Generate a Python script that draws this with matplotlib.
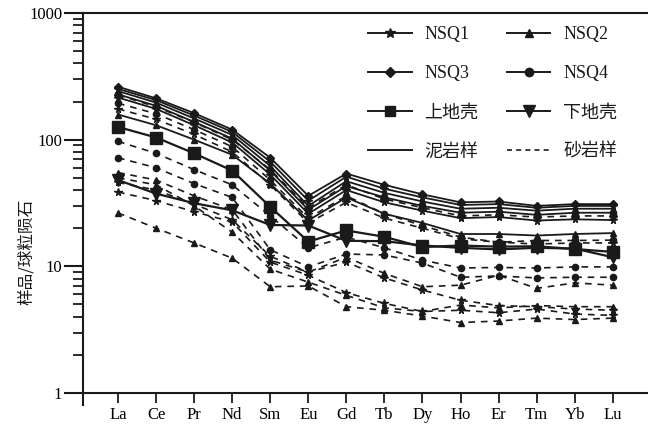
import matplotlib
matplotlib.use('Agg')
import matplotlib.pyplot as plt
from matplotlib.lines import Line2D
from matplotlib.ticker import LogLocator, NullFormatter, FixedLocator

plt.rcParams['font.family'] = ['Liberation Serif', 'Noto Sans CJK SC', 'DejaVu Sans']

elements = ['La', 'Ce', 'Pr', 'Nd', 'Sm', 'Eu', 'Gd', 'Tb', 'Dy', 'Ho', 'Er', 'Tm', 'Yb', 'Lu']

# reference crusts
upper_crust = [126, 104, 78, 57, 29.5, 15.7, 19.2, 17.1, 14.2, 14.6, 14.3, 14.4, 13.7, 13.0]
lower_crust = [48, 37.5, 31.5, 27.7, 21.2, 21.0, 15.9, 15.8, 14.6, 14.0, 13.6, 14.0, 13.8, 11.8]

# mudstone samples (solid)
mud_s1 = [262, 212, 162, 120, 72, 36, 54, 44, 37, 32, 32.5, 30, 31, 31]
mud_s2 = [252, 205, 155, 115, 67, 33, 51, 41, 35, 30.5, 31, 29, 30, 30]
mud_s3 = [242, 196, 147, 109, 62, 30, 47, 38, 32.5, 28.5, 29, 27.5, 28.5, 28.5]
mud_s4 = [228, 185, 138, 102, 57, 28, 43, 35, 30, 26.5, 27, 25.5, 26.5, 26.5]
mud_s5 = [215, 175, 130, 95, 53, 26, 40, 32, 27.5, 24, 24.5, 23, 23.5, 23.2]
mud_s6 = [158, 130, 100, 76, 45, 23, 35, 26, 22, 18, 18, 17.5, 18, 18.3]

# sandstone samples (dashed)
sand_d0 = [225, 182, 137, 100, 58, 29, 44, 34, 29, 25, 25.5, 24.5, 25, 25]
sand_d1 = [194, 160, 120, 88, 48, 24, 36, 26, 21, 17, 15.5, 16, 16, 16.1]
sand_d2 = [175, 145, 110, 80, 44, 22, 32, 24, 20, 16.5, 15.5, 15, 15.3, 15.3]
sand_d3 = [97, 78, 58, 44, 25, 14, 17, 14, 11.2, 9.7, 9.8, 9.7, 9.9, 9.9]
sand_d4 = [72, 60, 45, 35, 13.5, 9.9, 12.5, 12.3, 10.6, 8.2, 8.4, 8.1, 8.2, 8.2]
sand_d5 = [55, 48, 36, 28, 11.2, 9.0, 11.8, 8.8, 6.9, 7.1, 8.5, 6.7, 7.4, 7.1]
sand_l1 = [26.4, 20, 15.3, 11.6, 6.9, 7.0, 4.8, 4.5, 4.05, 3.6, 3.7, 3.9, 3.8, 3.9]
sand_l2 = [38.6, 33, 27, 22.4, 10.8, 8.5, 6.2, 5.1, 4.4, 4.5, 4.3, 4.6, 4.2, 4.1]
sand_l3 = [46, 40, 31, 23.3, 12, 9.0, 10.8, 8.1, 6.5, 5.4, 4.9, 4.8, 4.6, 4.5]
sand_l4 = [50, 44, 30, 18.6, 9.5, 7.5, 5.9, 4.7, 4.4, 4.95, 4.7, 4.9, 4.8, 4.8]

y_ticks = [1, 10, 100, 1000]
y_tick_labels = ['1', '10', '100', '1000']

legend_labels = ['NSQ1', 'NSQ2', 'NSQ3', 'NSQ4', '上地壳', '下地壳', '泥岩样', '砂岩样']

C = '#1a1a1a'
x = list(range(1, len(elements) + 1))

fig = plt.figure(figsize=(6.48, 4.28), dpi=100)
ax = fig.add_axes([83/648, 35/428, 564/648, 380/428])

dash = (0, (4, 3.5))
sand = [(sand_d0, 'D'), (sand_d1, 'o'), (sand_d2, '*'), (sand_d3, 'o'), (sand_d4, 'o'),
        (sand_d5, '^'), (sand_l1, '^'), (sand_l2, '*'), (sand_l3, '*'), (sand_l4, '^')]
for vals, m in sand:
    ax.plot(x, vals, color=C, lw=1.2, linestyle=dash, marker=m,
            ms=4.5 if m != '*' else 5.5, mfc=C, mec=C)

mud = [(mud_s1, 'D'), (mud_s2, '*'), (mud_s3, '^'), (mud_s4, 'o'), (mud_s5, '*'), (mud_s6, '^')]
for vals, m in mud:
    ax.plot(x, vals, color=C, lw=1.3, linestyle='-', marker=m,
            ms=4 if m == 'D' else (5.5 if m == '*' else 4.5), mfc=C, mec=C)

ax.plot(x, upper_crust, color=C, lw=1.6, marker='s', ms=8, mfc=C, mec=C)
ax.plot(x, lower_crust, color=C, lw=1.6, marker='v', ms=9, mfc=C, mec=C)

ax.set_yscale('log')
ax.set_ylim(1, 1000)
ax.set_xlim(0.08, 14.9)
ax.set_xticks(x)
ax.set_xticklabels(elements, fontsize=12)
ax.yaxis.set_major_locator(FixedLocator(y_ticks))
ax.set_yticklabels(y_tick_labels, fontsize=12)
ax.yaxis.set_minor_locator(LogLocator(base=10, subs=range(2, 10)))
ax.yaxis.set_minor_formatter(NullFormatter())

ax.spines['right'].set_visible(False)
for s in ['left', 'bottom', 'top']:
    ax.spines[s].set_linewidth(1.5)
    ax.spines[s].set_color(C)
ax.spines['left'].set_bounds(0.8, 1000)
ax.tick_params(axis='y', which='major', direction='out', length=14, width=1.5, color=C, pad=1)
ax.tick_params(axis='y', which='minor', direction='out', length=7, width=1.3, color=C)
ax.tick_params(axis='x', which='major', direction='out', length=7, width=1.3, color=C, pad=3)

fig.text(27/648, 1 - 252/428, '样品/球粒陨石', rotation=90, ha='center', va='center',
         fontsize=12, color=C, family=['Noto Sans CJK SC'])

handles = [
    Line2D([], [], color=C, lw=1.4, marker='*', ms=7),
    Line2D([], [], color=C, lw=1.4, marker='^', ms=6),
    Line2D([], [], color=C, lw=1.4, marker='D', ms=5),
    Line2D([], [], color=C, lw=1.4, marker='o', ms=6),
    Line2D([], [], color=C, lw=1.4, marker='s', ms=7),
    Line2D([], [], color=C, lw=1.4, marker='v', ms=8),
    Line2D([], [], color=C, lw=1.4),
    Line2D([], [], color=C, lw=1.2, linestyle=(0, (3, 2.5))),
]
order = [0, 2, 4, 6, 1, 3, 5, 7]
leg = ax.legend([handles[i] for i in order], [legend_labels[i] for i in order],
                ncol=2, loc='upper left', bbox_to_anchor=(0.493, 0.984), frameon=False,
                fontsize=13, handlelength=2.4, handletextpad=0.7, columnspacing=1.6,
                labelspacing=1.22, borderaxespad=0, borderpad=0.4)
for t in leg.get_texts():
    t.set_color(C)

fig.savefig('out.png', dpi=100)
